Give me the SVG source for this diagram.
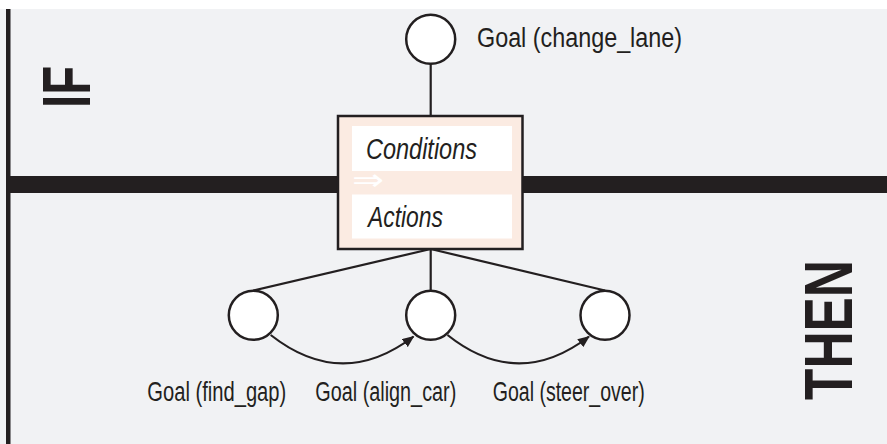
<svg xmlns="http://www.w3.org/2000/svg" width="887" height="444" viewBox="0 0 887 444">
<style>
.bg{fill:#f1f2f4}
.bar{fill:#231f20}
.node{fill:#ffffff;stroke:#231f20;stroke-width:2.5}
.edge{fill:none;stroke:#231f20;stroke-width:2.2}
.lbl{font-family:"Liberation Sans",Arial,sans-serif;font-size:27.5px;fill:#231f20}
.it{font-family:"Liberation Sans",Arial,sans-serif;font-size:30px;font-style:italic;fill:#231f20}
.big{font-family:"Liberation Sans",Arial,sans-serif;font-size:69px;font-weight:bold;fill:#231f20}
</style>
<defs>
<marker id="ah" markerWidth="12" markerHeight="10" refX="11" refY="5" orient="auto" markerUnits="userSpaceOnUse">
<path d="M0,0 L12,5 L0,10 Z" fill="#231f20"/>
</marker>
</defs>
<rect x="0" y="0" width="887" height="444" fill="#ffffff"/>
<rect class="bg" x="0" y="9" width="887" height="435"/>
<rect class="bar" x="6" y="9" width="4.5" height="435"/>
<rect class="bar" x="6" y="176" width="881" height="17"/>
<text class="big" transform="translate(90,108) rotate(-90) scale(0.69,1)" textLength="60.9" lengthAdjust="spacingAndGlyphs">IF</text>
<text class="big" transform="translate(852,400) rotate(-90) scale(0.745,1)" textLength="187.9" lengthAdjust="spacingAndGlyphs">THEN</text>
<g id="connectors">
<line class="edge" x1="430.7" y1="64" x2="430.7" y2="116"/>
<line class="edge" x1="430.7" y1="249" x2="253.3" y2="290.5"/>
<line class="edge" x1="430.7" y1="249" x2="430.7" y2="290.5"/>
<line class="edge" x1="430.7" y1="249" x2="605" y2="290.5"/>
<path class="edge" d="M270.7,335 Q342,391 413.5,336.5" marker-end="url(#ah)"/>
<path class="edge" d="M447.5,335 Q518,391 589,336.5" marker-end="url(#ah)"/>
</g>
<g id="rule">
<rect x="338" y="116" width="184.5" height="133" fill="#fbebe2" stroke="#231f20" stroke-width="2.5"/>
<rect x="352" y="126" width="160" height="45" fill="#ffffff"/>
<rect x="352" y="194.5" width="160" height="44" fill="#ffffff"/>
<text class="it" transform="translate(366,158.5) scale(0.78,1)" textLength="142.3" lengthAdjust="spacingAndGlyphs">Conditions</text>
<text x="352" y="190" font-family="DejaVu Sans,sans-serif" font-size="30" fill="#ffffff" textLength="32" lengthAdjust="spacingAndGlyphs">⇒</text>
<text class="it" transform="translate(368,227) scale(0.77,1)" textLength="97.4" lengthAdjust="spacingAndGlyphs">Actions</text>
</g>
<g id="goal-change-lane">
<circle class="node" cx="430.7" cy="39.3" r="24.5"/>
<text class="lbl" transform="translate(477,47) scale(0.86,1)" textLength="238.4" lengthAdjust="spacingAndGlyphs">Goal (change_lane)</text>
</g>
<g id="goal-find-gap">
<circle class="node" cx="253.3" cy="315.3" r="24.5"/>
<text class="lbl" transform="translate(147.3,401) scale(0.69,1)" textLength="201.4" lengthAdjust="spacingAndGlyphs">Goal (find_gap)</text>
</g>
<g id="goal-align-car">
<circle class="node" cx="430.7" cy="315.3" r="24.5"/>
<text class="lbl" transform="translate(315.3,401) scale(0.72,1)" textLength="195.8" lengthAdjust="spacingAndGlyphs">Goal (align_car)</text>
</g>
<g id="goal-steer-over">
<circle class="node" cx="605" cy="315.3" r="24.5"/>
<text class="lbl" transform="translate(492.7,401) scale(0.71,1)" textLength="214.1" lengthAdjust="spacingAndGlyphs">Goal (steer_over)</text>
</g>
</svg>
